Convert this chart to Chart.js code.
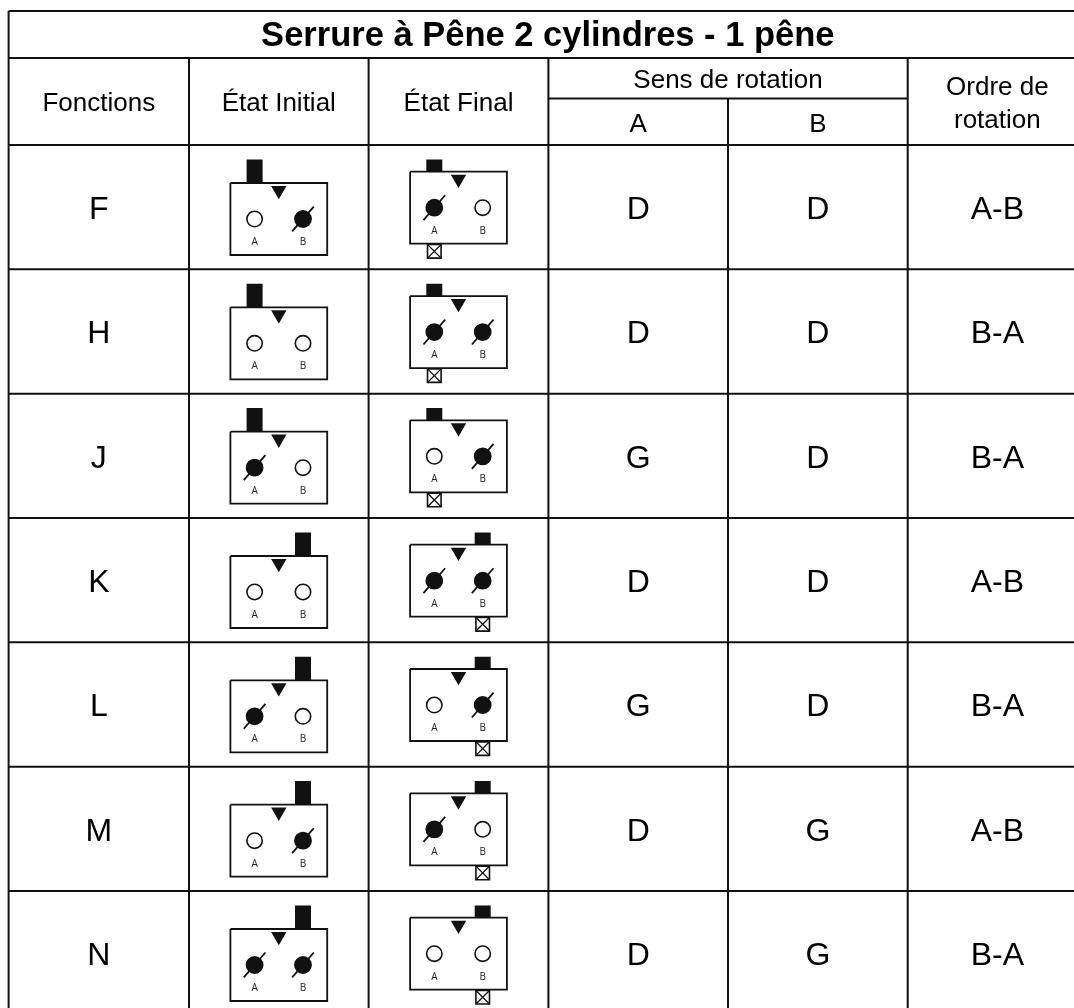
<!DOCTYPE html>
<html lang="fr">
<head>
<meta charset="UTF-8">
<title>Serrure à Pêne 2 cylindres - 1 pêne</title>
<script src="https://cdn.jsdelivr.net/npm/chart.js@4"></script>
<style>
  html, body { margin: 0; padding: 0; background: #fff; overflow: hidden; }
  canvas { display: block; }
</style>
</head>
<body>
<canvas id="chart" width="1074" height="1008"></canvas>
<script>
// Table content
const titleText = 'Serrure à Pêne 2 cylindres - 1 pêne';
const functions = ['F', 'H', 'J', 'K', 'L', 'M', 'N'];
const boltSide = ['A', 'A', 'A', 'B', 'B', 'B', 'B'];
const initialA = [0, 0, 1, 0, 1, 0, 1];
const initialB = [1, 0, 0, 0, 0, 1, 1];
const finalA = [1, 1, 0, 1, 0, 1, 0];
const finalB = [0, 1, 1, 1, 1, 0, 0];
const senseA = ['D', 'D', 'G', 'D', 'G', 'D', 'D'];
const senseB = ['D', 'D', 'D', 'D', 'D', 'G', 'G'];
const rotationOrder = ['A-B', 'B-A', 'B-A', 'A-B', 'B-A', 'A-B', 'B-A'];

// Table layout, in page units
const WIDTH = 1074;
const HEIGHT = 1008;
const colEdges = [8.6, 189, 368.6, 548.4, 728, 907.7, 1087];
const colCenter = i => (colEdges[i] + colEdges[i + 1]) / 2;
const TOP = 11, TITLE_BOTTOM = 58, SUB_HEADER = 98.5, HEADER_BOTTOM = 145, ROW_H = 124.33;
const rowTop = i => HEADER_BOTTOM + i * ROW_H;
const INK = '#111';

// Line helper: a null point lifts the pen
const GAP = { x: null, y: null };
function path(points, target) {
  points.forEach(p => target.push({ x: p[0], y: p[1] }));
  target.push(GAP);
}

const rules = [];
const boxes = [];
const bolts = [];
const triangles = [];
const filled = [];
const open = [];
const stops = [];
const miniLabels = [];

// Table rules
path([[colEdges[0], TOP], [WIDTH, TOP]], rules);
path([[colEdges[0], TITLE_BOTTOM], [WIDTH, TITLE_BOTTOM]], rules);
path([[colEdges[3], SUB_HEADER], [colEdges[5], SUB_HEADER]], rules);
path([[colEdges[0], TOP], [colEdges[0], HEIGHT]], rules);
[1, 2, 3, 5].forEach(i => path([[colEdges[i], TITLE_BOTTOM], [colEdges[i], HEIGHT]], rules));
path([[colEdges[4], SUB_HEADER], [colEdges[4], HEIGHT]], rules);
functions.forEach((f, i) => path([[colEdges[0], rowTop(i)], [WIDTH, rowTop(i)]], rules));

// One lock diagram: the bolt is pulled in and the stop shown in the final state
function addDiagram(i, col, stateA, stateB, isFinal) {
  const top = rowTop(i);
  const cx = colCenter(col);
  const boxTop = top + (isFinal ? 26.7 : 38);
  const xA = cx - 24.2, xB = cx + 24.2;
  const boltX = boltSide[i] === 'A' ? xA : xB;
  path([[cx - 48.4, boxTop], [cx + 48.4, boxTop], [cx + 48.4, boxTop + 72], [cx - 48.4, boxTop + 72], [cx - 48.4, boxTop]], boxes);
  path([[boltX, top + 14.4], [boltX, boxTop]], bolts);
  triangles.push({ x: cx, y: boxTop + 7.4 });
  const cy = boxTop + 36;
  (stateA ? filled : open).push({ x: xA, y: cy });
  (stateB ? filled : open).push({ x: xB, y: cy });
  miniLabels.push({ text: 'A', x: xA, y: boxTop + 62 }, { text: 'B', x: xB, y: boxTop + 62 });
  if (isFinal) stops.push({ x: boltX, y: boxTop + 79.6 });
}

functions.forEach((f, i) => {
  addDiagram(i, 1, initialA[i], initialB[i], false);
  addDiagram(i, 2, finalA[i], finalB[i], true);
});

// Text drawn through the chart scales
const headerTexts = [
  { text: 'Fonctions', x: colCenter(0), y: 110.5 },
  { text: 'État Initial', x: colCenter(1), y: 110.5 },
  { text: 'État Final', x: colCenter(2), y: 110.5 },
  { text: 'Sens de rotation', x: colEdges[4], y: 88 },
  { text: 'A', x: colCenter(3), y: 131.5 },
  { text: 'B', x: colCenter(4), y: 131.5 },
  { text: 'Ordre de', x: colCenter(5), y: 95 },
  { text: 'rotation', x: colCenter(5), y: 127.5 }
];
const bodyTexts = [];
functions.forEach((f, i) => {
  const y = rowTop(i) + 74;
  bodyTexts.push({ text: f, x: colCenter(0), y });
  bodyTexts.push({ text: senseA[i], x: colCenter(3), y });
  bodyTexts.push({ text: senseB[i], x: colCenter(4), y });
  bodyTexts.push({ text: rotationOrder[i], x: colCenter(5), y });
});

const tableText = {
  id: 'tableText',
  afterDatasetsDraw(chart) {
    const { ctx, scales: { x, y } } = chart;
    const put = (items, font, color) => {
      ctx.font = font;
      ctx.fillStyle = color;
      items.forEach(t => ctx.fillText(t.text, x.getPixelForValue(t.x), y.getPixelForValue(t.y)));
    };
    ctx.save();
    ctx.textAlign = 'center';
    ctx.textBaseline = 'alphabetic';
    put([{ text: titleText, x: (colEdges[0] + colEdges[6]) / 2, y: 46 }], 'bold 34.5px "Liberation Sans"', '#000');
    put(headerTexts, '26px "Liberation Sans"', '#000');
    put(bodyTexts, '32px "Liberation Sans"', '#000');
    put(miniLabels, '10px "Open Sans"', '#222');
    ctx.restore();
  }
};

const lineSet = (data, borderWidth, extra) => Object.assign({
  data, borderWidth, borderColor: INK, showLine: true, pointRadius: 0, spanGaps: false, tension: 0, fill: false
}, extra);
const pointSet = (data, pointStyle, pointRadius, extra) => Object.assign({
  data, pointStyle, pointRadius, pointBorderColor: INK, pointBackgroundColor: INK, pointBorderWidth: 1.6, showLine: false
}, extra);

new Chart(document.getElementById('chart'), {
  type: 'scatter',
  data: {
    datasets: [
      pointSet(filled, 'circle', 8.1, { order: 1 }),
      pointSet(filled, 'line', 16.5, { order: 1, pointRotation: -49, pointBorderWidth: 1.8 }),
      pointSet(open, 'circle', 7.7, { order: 1, pointBackgroundColor: '#fff' }),
      pointSet(stops, 'crossRot', 9.6, { order: 1, pointBorderWidth: 1.3 }),
      pointSet(stops, 'rect', 9.6, { order: 2, pointBackgroundColor: '#fff' }),
      pointSet(triangles, 'triangle', 7.3, { order: 1, pointRotation: 180 }),
      lineSet(bolts, 16, { order: 3 }),
      lineSet(boxes, 1.8, { order: 4, borderJoinStyle: 'miter' }),
      lineSet(rules, 2, { order: 5 })
    ]
  },
  options: {
    responsive: false,
    animation: false,
    events: [],
    layout: { padding: 0, autoPadding: false },
    plugins: { legend: { display: false }, tooltip: { enabled: false }, title: { display: false } },
    scales: {
      x: { type: 'linear', display: false, min: 0, max: WIDTH },
      y: { type: 'linear', display: false, min: 0, max: HEIGHT, reverse: true }
    }
  },
  plugins: [tableText]
});
</script>
</body>
</html>
